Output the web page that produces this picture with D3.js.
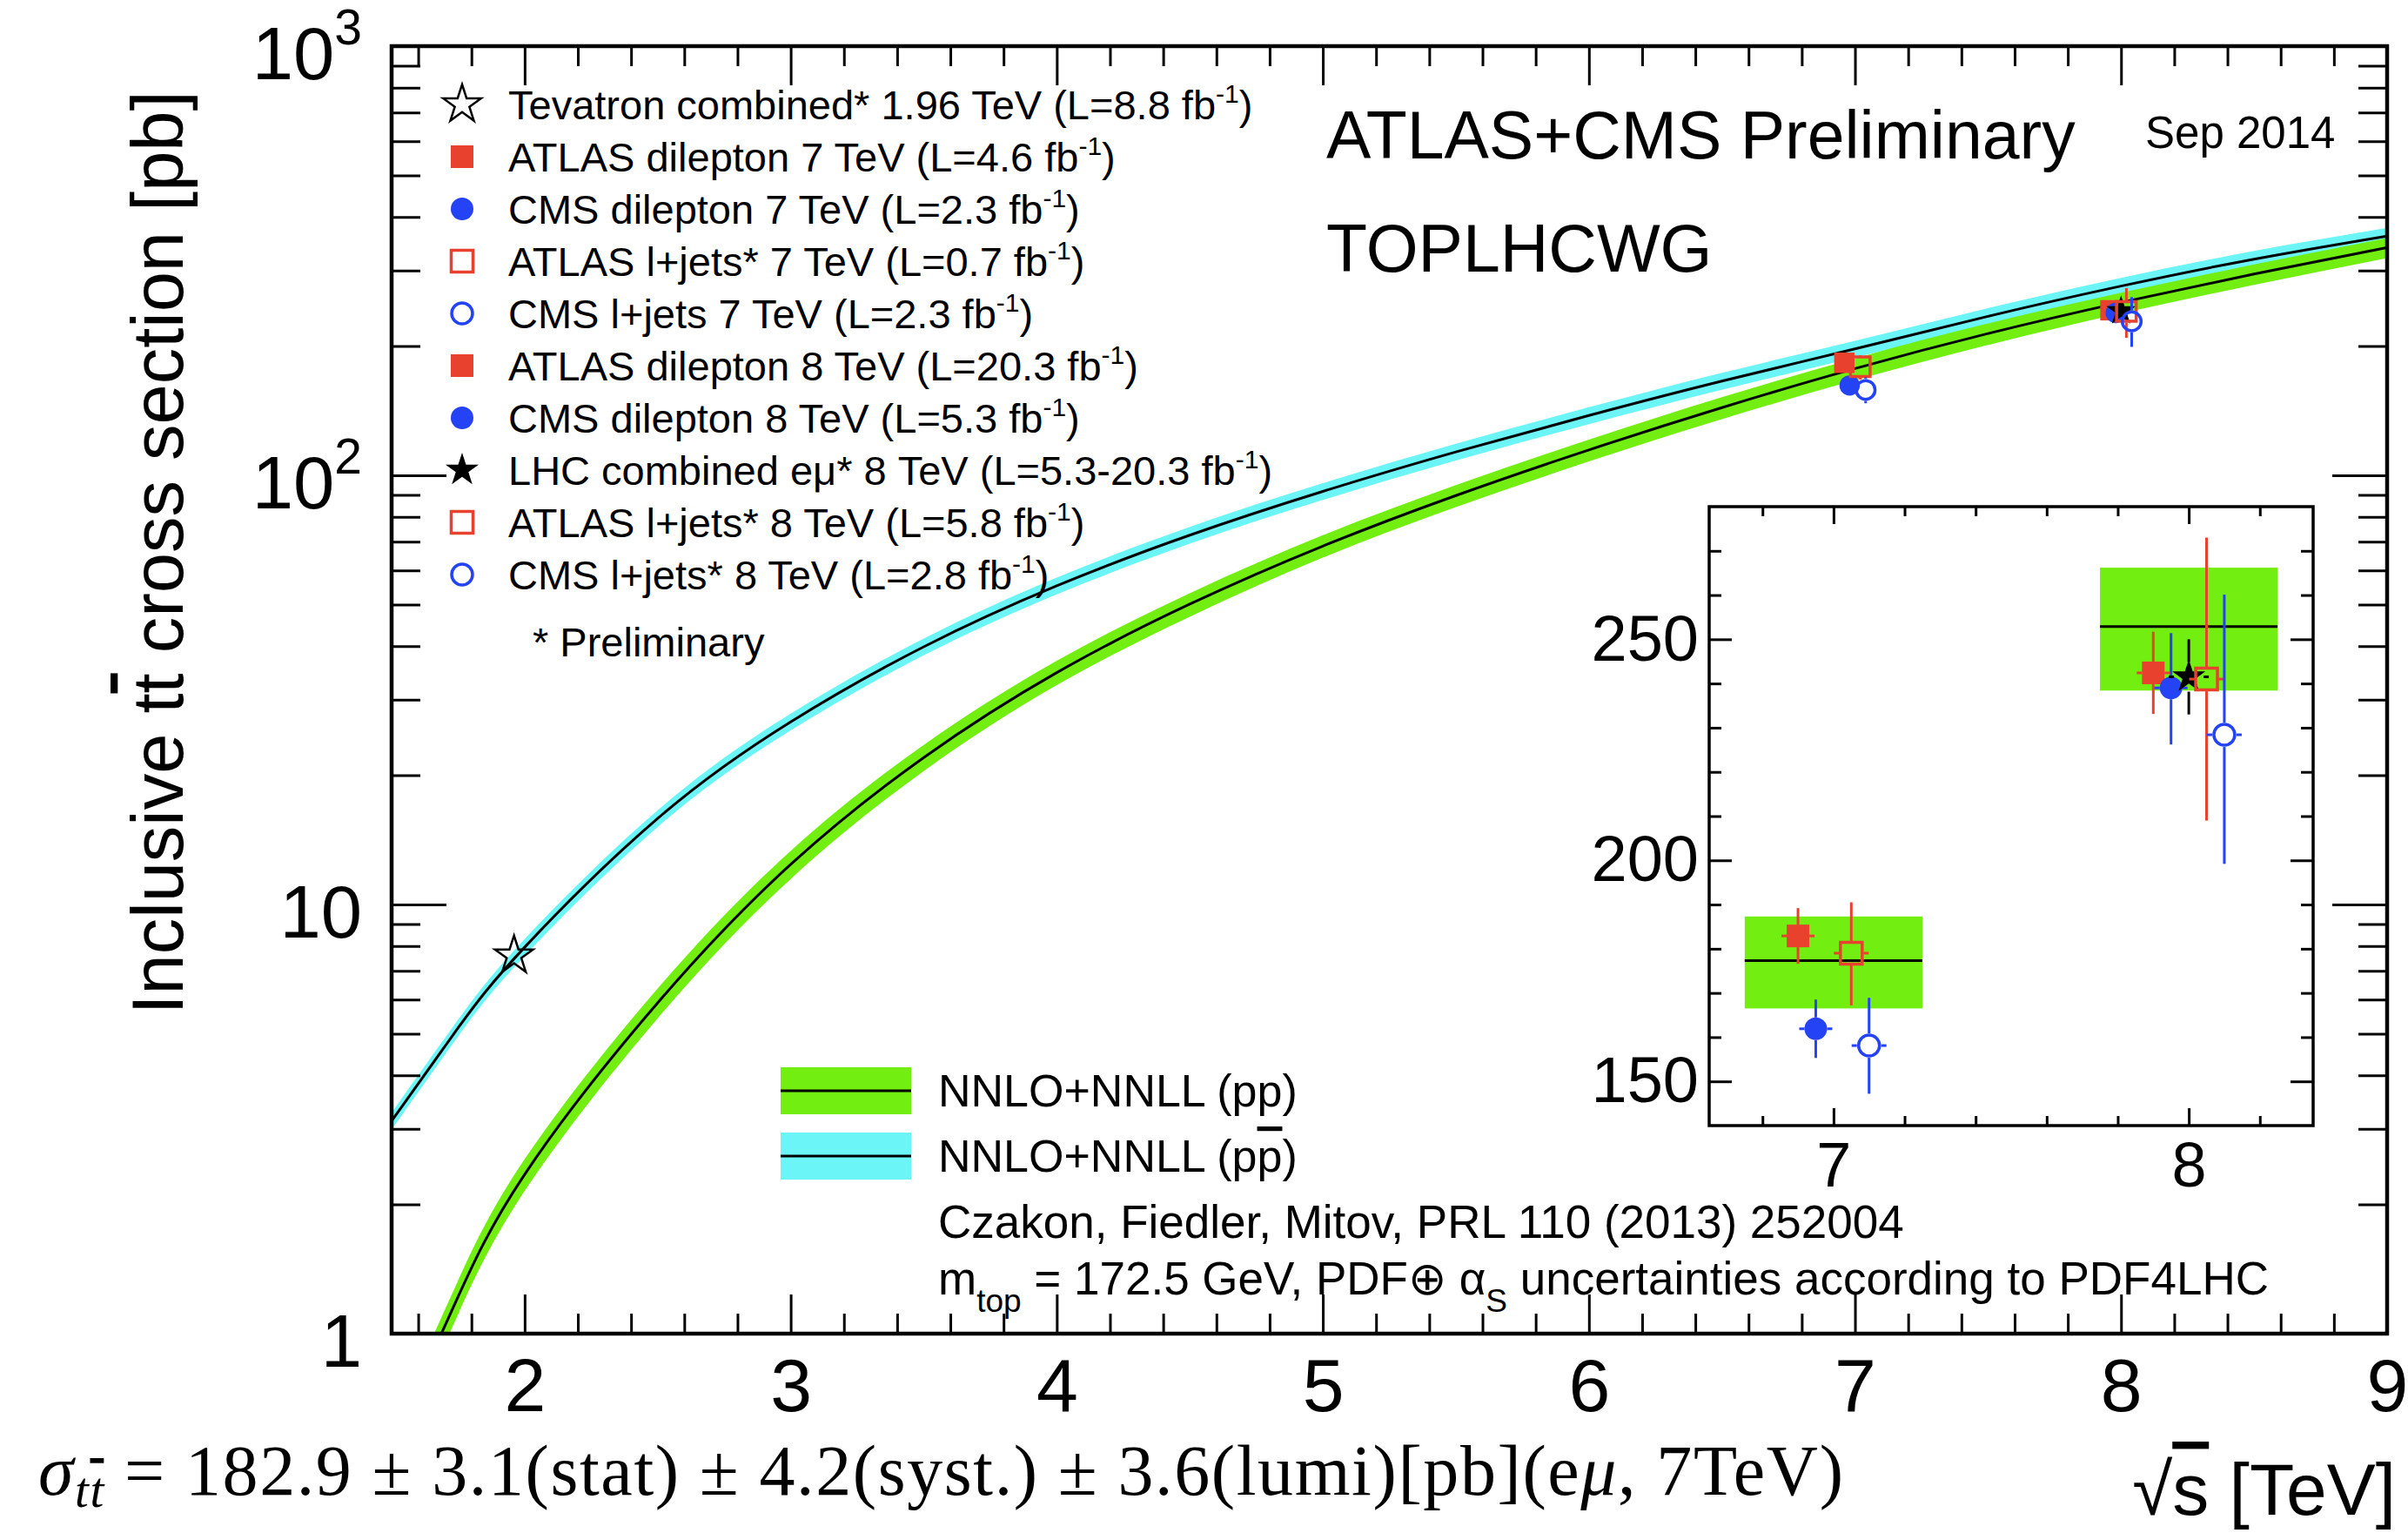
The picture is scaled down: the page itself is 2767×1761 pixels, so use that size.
<!DOCTYPE html>
<html>
<head>
<meta charset="utf-8">
<title>Inclusive ttbar cross section vs sqrt(s)</title>
<script src="https://cdn.jsdelivr.net/npm/d3@7/dist/d3.min.js"></script>
<style>
  body { margin: 0; background: #fff; }
  text { font-family: "Liberation Sans", Arial, Helvetica, sans-serif; fill: #000; }
  .serif { font-family: "Liberation Serif", "Times New Roman", serif; }
</style>
</head>
<body>
<svg id="chart" width="2767" height="1761"></svg>
<script>
'use strict';

// NNLO+NNLL pp (green band).
var ppEnergy  = [1.6, 1.75, 2, 2.5, 3, 3.5, 4, 4.5, 5, 5.5, 6, 6.5, 7, 7.5, 8, 8.5, 9];
var ppCentral = [0.76, 1.22, 2.35, 5.9, 12.4, 22.0, 34.7, 50.1, 68.4, 89.7, 114.6, 143.8, 177.3, 214, 252.9, 294.5, 339.5];
var ppLow     = [0.692, 1.11, 2.15, 5.43, 11.47, 20.46, 32.44, 46.84, 64.3, 84.32, 107.7, 135.2, 166.5, 201.2, 238.4, 277.7, 320.8];
var ppHigh    = [0.828, 1.33, 2.55, 6.37, 13.33, 23.54, 36.96, 53.11, 72.5, 94.9, 121.1, 152.0, 187.3, 225.8, 266.2, 310.1, 357.2];

// NNLO+NNLL ppbar (cyan band).
var ppbarEnergy  = [1.5, 1.75, 2, 2.5, 3, 3.5, 4, 4.5, 5, 5.5, 6, 6.5, 7, 7.5, 8, 8.5, 9];
var ppbarCentral = [3.13, 5.16, 7.95, 15.87, 26.64, 39.85, 55.27, 72.53, 91.72, 113.35, 137.84, 165.76, 197, 234.7, 276, 318.9, 361];
var ppbarLow     = [2.99, 4.93, 7.59, 15.16, 25.44, 38.06, 52.78, 69.27, 87.59, 108.25, 131.64, 158.3, 188.14, 224.14, 263.58, 304.55, 344.76];
var ppbarHigh    = [3.27, 5.39, 8.31, 16.58, 27.84, 41.64, 57.76, 75.79, 95.85, 118.45, 144.04, 173.22, 205.87, 245.26, 288.42, 333.25, 377.25];

// Theory boxes in the inset (pp at 7 and 8 TeV).
var boxEnergy  = [7, 8];
var boxCentral = [177.3, 252.9];
var boxLow     = [166.5, 238.4];
var boxHigh    = [187.3, 266.2];
var boxHalfWidth = 0.25;

// Measurements.
var measMarker  = ['squareFull', 'circleFull', 'squareOpen', 'circleOpen', 'squareFull', 'circleFull', 'starFull', 'squareOpen', 'circleOpen'];
var measMainX   = [6.96, 6.98, 7.02, 7.04, 7.96, 7.98, 8.00, 8.02, 8.04];
var measInsetX  = [6.90, 6.95, 7.05, 7.10, 7.90, 7.95, 8.00, 8.05, 8.10];
var measXsec    = [182.9, 161.9, 179.0, 158.1, 242.4, 239.0, 241.5, 241.0, 228.4];
var measErrUp   = [6.3, 6.6, 11.5, 10.8, 9.3, 12.4, 8.5, 32.0, 31.7];
var measErrDown = [6.3, 6.6, 11.8, 10.9, 9.3, 12.8, 8.5, 32.0, 29.2];

var tevatronEnergy = [1.96];
var tevatronXsec   = [7.60];

// Legend (top left).
var legendMarker = ['starOpen', 'squareFull', 'circleFull', 'squareOpen', 'circleOpen',
                    'squareFull', 'circleFull', 'starFull', 'squareOpen', 'circleOpen'];
var legendText = ['Tevatron combined* 1.96 TeV (L=8.8 fb',
                  'ATLAS dilepton 7 TeV (L=4.6 fb',
                  'CMS dilepton 7 TeV (L=2.3 fb',
                  'ATLAS l+jets* 7 TeV (L=0.7 fb',
                  'CMS l+jets 7 TeV (L=2.3 fb',
                  'ATLAS dilepton 8 TeV (L=20.3 fb',
                  'CMS dilepton 8 TeV (L=5.3 fb',
                  'LHC combined e\u03bc* 8 TeV (L=5.3-20.3 fb',
                  'ATLAS l+jets* 8 TeV (L=5.8 fb',
                  'CMS l+jets* 8 TeV (L=2.8 fb'];

// Axis ticks.
var xTickValues = [2, 3, 4, 5, 6, 7, 8, 9];
var yTickValues = [1, 10, 100, 1000];
var yTickPowers = ['1', '10', '10', '10'];
var yTickExps   = ['', '', '2', '3'];
var insetXTicks = [7, 8];
var insetYTicks = [150, 200, 250];

var RED = '#e8412d', BLUE = '#2443f5', GREEN = '#72ee10', CYAN = '#6cf5f6';

var svg = d3.select('#chart');
var margin = {top: 53, right: 24, bottom: 229, left: 450};
var width = 2767 - margin.left - margin.right;
var height = 1761 - margin.top - margin.bottom;

var x = d3.scaleLinear().domain([1.5, 9]).range([0, width]);
var y = d3.scaleLog().domain([1, 1000]).range([height, 0]);

var g = svg.append('g')
    .attr('transform', 'translate(' + margin.left + ',' + margin.top + ')');

g.append('clipPath').attr('id', 'plot-clip')
  .append('rect').attr('width', width).attr('height', height);

var markerSpec = {
  starOpen:   {type: d3.symbolStar, size: 23 * 23 / 0.8908, fill: 'none', stroke: '#000', sw: 2.5, half: 20},
  starFull:   {type: d3.symbolStar, size: 20 * 20 / 0.8908, fill: '#000', stroke: 'none', sw: 0, half: 17},
  squareFull: {type: d3.symbolSquare, size: 26 * 26, fill: RED, stroke: 'none', sw: 0, half: 13},
  squareOpen: {type: d3.symbolSquare, size: 25 * 25, fill: 'none', stroke: RED, sw: 3.5, half: 14},
  circleFull: {type: d3.symbolCircle, size: Math.PI * 13 * 13, fill: BLUE, stroke: 'none', sw: 0, half: 13},
  circleOpen: {type: d3.symbolCircle, size: Math.PI * 12 * 12, fill: 'none', stroke: BLUE, sw: 3.5, half: 14}
};

function markerColor(kind) {
  if (kind.indexOf('square') === 0) return RED;
  if (kind.indexOf('circle') === 0) return BLUE;
  return '#000';
}

function drawMarker(sel, kind, cx, cy, k) {
  var spec = markerSpec[kind];
  k = k || 1;
  sel.append('path')
    .attr('d', d3.symbol().type(spec.type).size(spec.size * k * k)())
    .attr('transform', 'translate(' + cx + ',' + cy + ')')
    .attr('fill', spec.fill)
    .attr('stroke', spec.stroke)
    .attr('stroke-width', spec.sw);
}

// Vertical error bar drawn outside the marker.
function drawErr(sel, kind, cx, cy, yTop, yBot, k, sw) {
  var half = markerSpec[kind].half * (k || 1);
  var col = markerColor(kind);
  if (cy - yTop > half) {
    sel.append('line').attr('x1', cx).attr('x2', cx).attr('y1', cy - half).attr('y2', yTop)
      .attr('stroke', col).attr('stroke-width', sw);
  }
  if (yBot - cy > half) {
    sel.append('line').attr('x1', cx).attr('x2', cx).attr('y1', cy + half).attr('y2', yBot)
      .attr('stroke', col).attr('stroke-width', sw);
  }
}

/*
 * Theory bands.
 */
var plot = g.append('g').attr('clip-path', 'url(#plot-clip)');

function bandRows(es, c, lo, hi) {
  return es.map(function(e, i) { return {s: e, c: c[i], lo: lo[i], hi: hi[i]}; });
}
var ppRows = bandRows(ppEnergy, ppCentral, ppLow, ppHigh);
var ppbarRows = bandRows(ppbarEnergy, ppbarCentral, ppbarLow, ppbarHigh);

var band = d3.area().curve(d3.curveNatural)
    .x(function(d) { return x(d.s); })
    .y0(function(d) { return y(d.lo); })
    .y1(function(d) { return y(d.hi); });
var centre = d3.line().curve(d3.curveNatural)
    .x(function(d) { return x(d.s); })
    .y(function(d) { return y(d.c); });

plot.append('path').datum(ppbarRows).attr('d', band).attr('fill', CYAN);
plot.append('path').datum(ppRows).attr('d', band).attr('fill', GREEN);
plot.append('path').datum(ppbarRows).attr('d', centre)
  .attr('fill', 'none').attr('stroke', '#000').attr('stroke-width', 3);
plot.append('path').datum(ppRows).attr('d', centre)
  .attr('fill', 'none').attr('stroke', '#000').attr('stroke-width', 3);

// Tevatron point.
tevatronEnergy.forEach(function(e, i) {
  drawMarker(plot, 'starOpen', x(e), y(tevatronXsec[i]));
});

// LHC points in the main frame.
measMarker.forEach(function(kind, i) {
  var cx = x(measMainX[i]), cy = y(measXsec[i]);
  drawErr(plot, kind, cx, cy, y(measXsec[i] + measErrUp[i]), y(measXsec[i] - measErrDown[i]), 0.9, 3);
  drawMarker(plot, kind, cx, cy, 0.9);
});

/*
 * Main axes.
 */
function styleAxis(sel) {
  sel.select('.domain').remove();
  sel.selectAll('line').attr('stroke-width', 3);
}
var xMinor = d3.range(16, 91, 2).map(function(v) { return v / 10; })
    .filter(function(v) { return xTickValues.indexOf(v) < 0; });
var yMinor = [];
[1, 10, 100].forEach(function(dec) {
  for (var m = 2; m <= 9; m++) yMinor.push(dec * m);
});

// Bottom.
g.append('g').attr('transform', 'translate(0,' + height + ')')
  .call(d3.axisBottom(x).tickValues(xTickValues).tickSize(-45).tickFormat(d3.format('d')))
  .call(styleAxis)
  .call(function(a) {
    a.selectAll('text').attr('y', 89).attr('dy', null)
      .style('font-size', '86px');
  });
g.append('g').attr('transform', 'translate(0,' + height + ')')
  .call(d3.axisBottom(x).tickValues(xMinor).tickSize(-23).tickFormat(''))
  .call(styleAxis);
// Top.
g.append('g')
  .call(d3.axisTop(x).tickValues(xTickValues).tickSize(-45).tickFormat(''))
  .call(styleAxis);
g.append('g')
  .call(d3.axisTop(x).tickValues(xMinor).tickSize(-23).tickFormat(''))
  .call(styleAxis);
// Left.
g.append('g')
  .call(d3.axisLeft(y).tickValues(yTickValues).tickSize(-63).tickFormat(''))
  .call(styleAxis);
g.append('g')
  .call(d3.axisLeft(y).tickValues(yMinor).tickSize(-33).tickFormat(''))
  .call(styleAxis);
// Right.
g.append('g').attr('transform', 'translate(' + width + ',0)')
  .call(d3.axisRight(y).tickValues(yTickValues).tickSize(-63).tickFormat(''))
  .call(styleAxis);
g.append('g').attr('transform', 'translate(' + width + ',0)')
  .call(d3.axisRight(y).tickValues(yMinor).tickSize(-33).tickFormat(''))
  .call(styleAxis);

// Y tick labels with powers of ten.
yTickValues.forEach(function(v, i) {
  var t = g.append('text')
    .attr('x', -34)
    .attr('y', y(v) + 38)
    .attr('text-anchor', 'end')
    .style('font-size', '85px')
    .text(yTickPowers[i]);
  if (yTickExps[i]) {
    t.append('tspan').attr('dy', -40).style('font-size', '57px').text(yTickExps[i]);
  }
});

// Frame.
g.append('rect').attr('width', width).attr('height', height)
  .attr('fill', 'none').attr('stroke', '#000').attr('stroke-width', 4.5);

// Axis titles.
var yTitle = svg.append('text')
  .attr('transform', 'translate(210,635) rotate(-90)')
  .attr('text-anchor', 'middle')
  .style('font-size', '83px');
yTitle.append('tspan').text('Inclusive t');
yTitle.append('tspan').style('text-decoration', 'overline').text('t');
yTitle.append('tspan').text(' cross section [pb]');

var xTitle = svg.append('text')
  .attr('x', 2753).attr('y', 1740)
  .attr('text-anchor', 'end')
  .style('font-size', '84px');
xTitle.append('tspan').text('\u221a');
xTitle.append('tspan').style('text-decoration', 'overline').text('s');
xTitle.append('tspan').text(' [TeV]');

/*
 * Labels.
 */
svg.append('text').attr('x', 1524).attr('y', 182).style('font-size', '77px')
  .text('ATLAS+CMS Preliminary');
svg.append('text').attr('x', 2465).attr('y', 170).style('font-size', '51px')
  .text('Sep 2014');
svg.append('text').attr('x', 1524).attr('y', 312).style('font-size', '77px')
  .text('TOPLHCWG');

// Top-left legend.
var legend = svg.append('g');
legendText.forEach(function(label, i) {
  var cy = 120 + i * 60;
  drawMarker(legend, legendMarker[i], 531, cy);
  var t = legend.append('text').attr('x', 584).attr('y', cy + 17).style('font-size', '47px');
  t.append('tspan').text(label);
  t.append('tspan').attr('dy', -19).style('font-size', '30px').text('-1');
  t.append('tspan').attr('dy', 19).style('font-size', '47px').text(')');
});
legend.append('text').attr('x', 612).attr('y', 754).style('font-size', '47px')
  .text('* Preliminary');

// Bottom legend for the bands.
var bandLegend = svg.append('g');
[[GREEN, 1253, 'pp'], [CYAN, 1328, 'pbar']].forEach(function(row) {
  bandLegend.append('rect').attr('x', 897).attr('y', row[1] - 27)
    .attr('width', 150).attr('height', 54).attr('fill', row[0]);
  bandLegend.append('line').attr('x1', 897).attr('x2', 1047)
    .attr('y1', row[1]).attr('y2', row[1]).attr('stroke', '#000').attr('stroke-width', 3);
  var t = bandLegend.append('text').attr('x', 1078).attr('y', row[1] + 18).style('font-size', '52px');
  if (row[2] === 'pp') {
    t.text('NNLO+NNLL (pp)');
  } else {
    t.append('tspan').text('NNLO+NNLL (p');
    t.append('tspan').style('text-decoration', 'overline').text('p');
    t.append('tspan').text(')');
  }
});
svg.append('text').attr('x', 1078).attr('y', 1422).style('font-size', '53px')
  .text('Czakon, Fiedler, Mitov, PRL 110 (2013) 252004');
var mtop = svg.append('text').attr('x', 1078).attr('y', 1487).style('font-size', '53px');
mtop.append('tspan').text('m');
mtop.append('tspan').attr('dy', 20).style('font-size', '37px').text('top');
mtop.append('tspan').attr('dy', -20).style('font-size', '53px').text(' = 172.5 GeV, PDF\u2295 \u03b1');
mtop.append('tspan').attr('dy', 20).style('font-size', '37px').text('S');
mtop.append('tspan').attr('dy', -20).style('font-size', '53px').text(' uncertainties according to PDF4LHC');

// Formula under the plot.
var formula = svg.append('text').attr('class', 'serif')
  .attr('x', 44).attr('y', 1717).style('font-size', '82px')
  .attr('textLength', 2074).attr('lengthAdjust', 'spacing');
formula.append('tspan').style('font-style', 'italic').text('\u03c3');
formula.append('tspan').attr('dy', 14).style('font-size', '57px').style('font-style', 'italic').text('t');
formula.append('tspan').style('font-size', '57px').style('font-style', 'italic')
  .style('text-decoration', 'overline').text('t');
formula.append('tspan').attr('dy', -14).style('font-size', '82px')
  .text(' = 182.9 \u00b1 3.1(stat) \u00b1 4.2(syst.) \u00b1 3.6(lumi)[pb](e');
formula.append('tspan').style('font-style', 'italic').text('\u03bc');
formula.append('tspan').text(', 7TeV)');

/*
 * Inset.
 */
var inset = {left: 1964, top: 582, width: 694, height: 711};
var xi = d3.scaleLinear().domain([6.65, 8.35]).range([0, inset.width]);
var yi = d3.scaleLinear().domain([140, 280]).range([inset.height, 0]);
var ig = svg.append('g').attr('transform', 'translate(' + inset.left + ',' + inset.top + ')');

ig.append('rect').attr('width', inset.width).attr('height', inset.height).attr('fill', '#fff');

boxEnergy.forEach(function(e, i) {
  ig.append('rect')
    .attr('x', xi(e - boxHalfWidth)).attr('width', xi(e + boxHalfWidth) - xi(e - boxHalfWidth))
    .attr('y', yi(boxHigh[i])).attr('height', yi(boxLow[i]) - yi(boxHigh[i]))
    .attr('fill', GREEN);
  ig.append('line')
    .attr('x1', xi(e - boxHalfWidth)).attr('x2', xi(e + boxHalfWidth))
    .attr('y1', yi(boxCentral[i])).attr('y2', yi(boxCentral[i]))
    .attr('stroke', '#000').attr('stroke-width', 3);
});

measMarker.forEach(function(kind, i) {
  var cx = xi(measInsetX[i]), cy = yi(measXsec[i]);
  var col = markerColor(kind);
  drawErr(ig, kind, cx, cy, yi(measXsec[i] + measErrUp[i]), yi(measXsec[i] - measErrDown[i]), 1, 3);
  var half = markerSpec[kind].half;
  [-1, 1].forEach(function(sgn) {
    ig.append('line').attr('x1', cx + sgn * half).attr('x2', cx + sgn * (half + 6))
      .attr('y1', cy).attr('y2', cy).attr('stroke', col).attr('stroke-width', 3);
  });
  drawMarker(ig, kind, cx, cy);
});

var ixMinor = [6.8, 7.2, 7.4, 7.6, 7.8, 8.2];
var iyMinor = d3.range(150, 280, 10).filter(function(v) { return insetYTicks.indexOf(v) < 0; });

ig.append('g').attr('transform', 'translate(0,' + inset.height + ')')
  .call(d3.axisBottom(xi).tickValues(insetXTicks).tickSize(-20).tickFormat(d3.format('d')))
  .call(styleAxis)
  .call(function(a) {
    a.selectAll('text').attr('y', 70).attr('dy', null).style('font-size', '72px');
  });
ig.append('g').attr('transform', 'translate(0,' + inset.height + ')')
  .call(d3.axisBottom(xi).tickValues(ixMinor).tickSize(-11).tickFormat('')).call(styleAxis);
ig.append('g')
  .call(d3.axisTop(xi).tickValues(insetXTicks).tickSize(-20).tickFormat('')).call(styleAxis);
ig.append('g')
  .call(d3.axisTop(xi).tickValues(ixMinor).tickSize(-11).tickFormat('')).call(styleAxis);
ig.append('g')
  .call(d3.axisLeft(yi).tickValues(insetYTicks).tickSize(-26).tickPadding(12).tickFormat(d3.format('d')))
  .call(styleAxis)
  .call(function(a) { a.selectAll('text').style('font-size', '74px'); });
ig.append('g')
  .call(d3.axisLeft(yi).tickValues(iyMinor).tickSize(-14).tickFormat('')).call(styleAxis);
ig.append('g').attr('transform', 'translate(' + inset.width + ',0)')
  .call(d3.axisRight(yi).tickValues(insetYTicks).tickSize(-26).tickFormat('')).call(styleAxis);
ig.append('g').attr('transform', 'translate(' + inset.width + ',0)')
  .call(d3.axisRight(yi).tickValues(iyMinor).tickSize(-14).tickFormat('')).call(styleAxis);

ig.append('rect').attr('width', inset.width).attr('height', inset.height)
  .attr('fill', 'none').attr('stroke', '#000').attr('stroke-width', 3.5);
</script>
</body>
</html>
